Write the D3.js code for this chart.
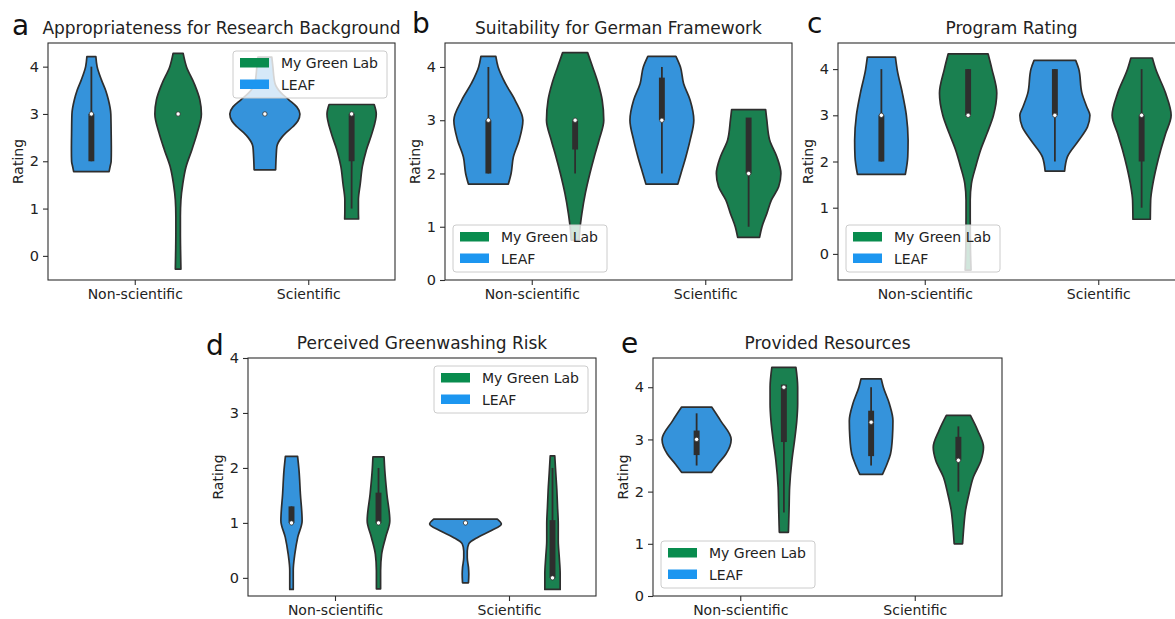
<!DOCTYPE html>
<html><head><meta charset="utf-8">
<script src="https://cdn.jsdelivr.net/npm/d3@7"></script>
<style>
body{margin:0;background:#fff}
svg{display:block;font-family:"DejaVu Sans",sans-serif}
</style>
</head><body>
<svg id="chart" width="1175" height="619"></svg>
<script>
// ---------------- DATA ----------------
const categories = ["Non-scientific", "Scientific"];
const seriesNames = ["LEAF", "My Green Lab"];
const legendLabels = ["My Green Lab", "LEAF"];
const yTickValues = [0, 1, 2, 3, 4];
const panelLetters = ["a", "b", "c", "d", "e"];
const panelTitles = [
  "Appropriateness for Research Background",
  "Suitability for German Framework",
  "Program Rating",
  "Perceived Greenwashing Risk",
  "Provided Resources"
];

// violin density profiles: [rating, half-width (fraction of category spacing)]
// a
const aLeafNon = [[4.21,.026],[4.0,.033],[3.72,.058],[3.5,.082],[3.3,.098],[3.0,.112],[2.6,.114],[2.24,.115],[2.0,.114],[1.89,.108],[1.78,.102]];
const aMglNon  = [[4.28,.029],[4.0,.048],[3.65,.092],[3.3,.125],[3.0,.134],[2.6,.110],[2.24,.079],[1.89,.046],[1.53,.027],[1.18,.016],[0.83,.013],[0.48,.013],[0.13,.014],[-0.28,.016]];
const aLeafSci = [[4.2,.040],[4.0,.046],[3.65,.058],[3.45,.092],[3.3,.138],[3.15,.184],[3.0,.202],[2.85,.190],[2.73,.161],[2.6,.121],[2.5,.096],[2.31,.069],[2.1,.065],[1.82,.062]];
const aMglSci  = [[3.2,.130],[3.0,.142],[2.6,.118],[2.24,.085],[1.89,.062],[1.53,.050],[1.18,.039],[0.95,.039],[0.78,.040]];
// b
const bLeafNon = [[4.2,.043],[4.0,.056],[3.69,.098],[3.375,.154],[3.0,.199],[2.63,.178],[2.31,.144],[2.0,.131],[1.8,.115]];
const bMglNon  = [[4.27,.072],[4.0,.101],[3.69,.133],[3.375,.156],[3.0,.165],[2.63,.138],[2.31,.110],[2.0,.085],[1.63,.059],[1.25,.039],[0.94,.027],[0.75,.023]];
const bLeafSci = [[4.2,.081],[4.0,.107],[3.69,.125],[3.375,.163],[3.0,.184],[2.63,.163],[2.31,.138],[2.0,.110],[1.8,.092]];
const bMglSci  = [[3.2,.098],[3.0,.105],[2.63,.121],[2.31,.163],[2.0,.186],[1.75,.173],[1.5,.131],[1.25,.105],[1.0,.077],[0.8,.063]];
// c
const cLeafNon = [[4.26,.081],[3.99,.091],[3.48,.121],[3.0,.144],[2.46,.154],[2.1,.152],[1.72,.138]];
const cMglNon  = [[4.33,.115],[4.0,.137],[3.48,.165],[3.0,.146],[2.6,.108],[2.25,.072],[1.88,.043],[1.52,.019],[1.16,.012],[0.8,.012],[0.2,.013],[-0.35,.017]];
const cLeafSci = [[4.19,.120],[4.0,.138],[3.48,.156],[3.19,.183],[3.0,.202],[2.75,.188],[2.46,.138],[2.1,.072],[1.79,.056]];
const cMglSci  = [[4.24,.062],[4.0,.081],[3.48,.138],[3.0,.170],[2.6,.138],[2.25,.110],[1.88,.085],[1.52,.065],[1.16,.052],[0.75,.050]];
// d
const dLeafNon = [[2.21,.035],[1.96,.043],[1.53,.051],[1.04,.061],[0.74,.036],[0.43,.019],[0.13,.010],[-0.21,.010]];
const dMglNon  = [[2.2,.032],[1.96,.036],[1.53,.048],[1.04,.065],[0.74,.041],[0.43,.018],[0.13,.012],[-0.2,.012]];
const dLeafSci = [[1.07,.183],[0.98,.206],[0.86,.149],[0.74,.072],[0.62,.019],[0.49,.010],[0.37,.010],[0.19,.017],[0.07,.019],[-0.09,.017]];
const dMglSci  = [[2.22,.013],[1.9,.019],[1.59,.025],[1.29,.029],[0.98,.033],[0.68,.033],[0.37,.039],[0.07,.044],[-0.21,.044]];
// e
const eLeafNon = [[3.62,.086],[3.36,.137],[3.0,.198],[2.72,.168],[2.53,.122],[2.37,.086]];
const eMglNon  = [[4.38,.069],[4.0,.079],[3.68,.079],[3.36,.074],[3.0,.062],[2.6,.046],[2.09,.033],[1.7,.030],[1.45,.028],[1.22,.026]];
const eLeafSci = [[4.16,.058],[4.0,.070],[3.68,.105],[3.36,.125],[3.04,.122],[2.72,.111],[2.53,.091],[2.33,.065]];
const eMglSci  = [[3.46,.069],[3.17,.111],[2.85,.144],[2.6,.130],[2.28,.086],[1.96,.061],[1.64,.041],[1.32,.031],[1.0,.024]];

// inner boxes: [q1, q3, median, whiskerLow, whiskerHigh]  order: LEAF-non, MGL-non, LEAF-sci, MGL-sci
const aBoxes = [[2,3,3,2,4],[3,3,3,3,3],[3,3,3,3,3],[2,3,3,1,3]];
const bBoxes = [[2,3,3,2,4],[2.45,3,3,2,3],[3,3.8,3,2,4],[2,3.05,2,1,3]];
const cBoxes = [[2,3,3,2,4],[3,4,3,3,4],[3,4,3,2,4],[2,3,3,1,4]];
const dBoxes = [[1,1.3,1,1,1.3],[1,1.55,1,1,2],[1,1,1,1,1],[0,1.05,0,0,2]];
const eBoxes = [[2.7,3.17,3,2.5,3.5],[2.95,4.05,4,1.6,4],[2.68,3.55,3.33,2.5,4],[2.6,3.05,2.6,2,3.25]];

const yDomains = [[-0.51, 4.5], [0, 4.45], [-0.565, 4.565], [-0.33, 4], [0, 4.56]];

// ---------------- LAYOUT / STYLE ----------------
const violinFill = {"LEAF": "#3593db", "My Green Lab": "#1a8050"};
const legendFill = {"LEAF": "#1c96f0", "My Green Lab": "#088c4e"};
const ink = "#2e2e2e";
const textColor = "#222";

const panels = [
  {left: 48,  right: 395,  top: 43,  bottom: 280, legend: "ur", violins: [aLeafNon, aMglNon, aLeafSci, aMglSci], boxes: aBoxes},
  {left: 445, right: 792,  top: 43,  bottom: 280, legend: "ll", violins: [bLeafNon, bMglNon, bLeafSci, bMglSci], boxes: bBoxes},
  {left: 838, right: 1185, top: 43,  bottom: 280, legend: "ll", violins: [cLeafNon, cMglNon, cLeafSci, cMglSci], boxes: cBoxes},
  {left: 248, right: 596,  top: 358, bottom: 596, legend: "ur", violins: [dLeafNon, dMglNon, dLeafSci, dMglSci], boxes: dBoxes},
  {left: 653, right: 1002, top: 358, bottom: 596, legend: "ll", violins: [eLeafNon, eMglNon, eLeafSci, eMglSci], boxes: eBoxes}
];

const svg = d3.select("#chart");

panels.forEach((p, pi) => {
  const g = svg.append("g");
  const x = d3.scaleLinear().domain([-0.5, 1.5]).range([p.left, p.right]);
  const y = d3.scaleLinear().domain(yDomains[pi]).range([p.bottom, p.top]);

  const order = [
    {cat: 0, s: "LEAF"}, {cat: 0, s: "My Green Lab"},
    {cat: 1, s: "LEAF"}, {cat: 1, s: "My Green Lab"}
  ];
  order.forEach((o, vi) => {
    const c = o.cat + (o.s === "LEAF" ? -0.25 : 0.25);
    const prof = p.violins[vi];
    const area = d3.area()
      .y(d => y(d[0]))
      .x0(d => x(c - d[1]))
      .x1(d => x(c + d[1]))
      .curve(d3.curveMonotoneY);
    g.append("path")
      .attr("d", area(prof))
      .attr("fill", violinFill[o.s])
      .attr("stroke", ink)
      .attr("stroke-width", 1.7)
      .attr("stroke-linejoin", "round");

    const [q1, q3, med, lo, hi] = p.boxes[vi];
    if (hi > lo) {
      g.append("line")
        .attr("x1", x(c)).attr("x2", x(c))
        .attr("y1", y(lo)).attr("y2", y(hi))
        .attr("stroke", ink).attr("stroke-width", 1.8);
    }
    if (q3 > q1) {
      g.append("rect")
        .attr("x", x(c - 0.017)).attr("width", x(c + 0.017) - x(c - 0.017))
        .attr("y", y(q3)).attr("height", y(q1) - y(q3))
        .attr("fill", ink);
    }
    g.append("circle")
      .attr("cx", x(c)).attr("cy", y(med)).attr("r", 2.2)
      .attr("fill", "#fff").attr("stroke", ink).attr("stroke-width", 0.8);
  });

  // frame
  g.append("rect")
    .attr("x", p.left).attr("y", p.top)
    .attr("width", p.right - p.left).attr("height", p.bottom - p.top)
    .attr("fill", "none").attr("stroke", ink).attr("stroke-width", 1.1);

  // axes
  const yAxis = d3.axisLeft(y).tickValues(yTickValues).tickSize(5).tickPadding(4).tickSizeOuter(0).tickFormat(d3.format("d"));
  const ya = g.append("g").attr("transform", `translate(${p.left},0)`).call(yAxis);
  ya.select(".domain").remove();
  ya.selectAll("line").attr("stroke", ink).attr("stroke-width", 1.1);
  ya.selectAll("text").attr("font-size", 14.5).attr("fill", textColor).attr("font-family", "DejaVu Sans");

  const xAxis = d3.axisBottom(x).tickValues([0, 1]).tickFormat(i => categories[i]).tickSize(5).tickPadding(4).tickSizeOuter(0);
  const xa = g.append("g").attr("transform", `translate(0,${p.bottom})`).call(xAxis);
  xa.select(".domain").remove();
  xa.selectAll("line").attr("stroke", ink).attr("stroke-width", 1.1);
  xa.selectAll("text").attr("font-size", 14).attr("fill", textColor).attr("font-family", "DejaVu Sans");

  // y label
  g.append("text")
    .attr("transform", `translate(${p.left - 30},${(p.top + p.bottom) / 2}) rotate(-90)`)
    .attr("text-anchor", "middle").attr("dominant-baseline", "central")
    .attr("font-size", 14).attr("fill", textColor)
    .text("Rating");

  // title
  g.append("text")
    .attr("x", (p.left + p.right) / 2).attr("y", p.top - 9)
    .attr("text-anchor", "middle").attr("font-size", 17).attr("fill", textColor)
    .text(panelTitles[pi]);

  // legend
  const lw = 154, lh = 47;
  const lx = p.legend === "ur" ? p.right - 8 - lw : p.left + 8;
  const ly = p.legend === "ur" ? p.top + 8 : p.bottom - 8 - lh;
  const lg = g.append("g").attr("transform", `translate(${lx},${ly})`);
  lg.append("rect").attr("width", lw).attr("height", lh).attr("rx", 3)
    .attr("fill", "#fff").attr("fill-opacity", 0.8)
    .attr("stroke", "#cccccc").attr("stroke-width", 1);
  legendLabels.forEach((lab, i) => {
    lg.append("rect").attr("x", 7).attr("y", 7 + i * 21.5).attr("width", 29).attr("height", 9.5)
      .attr("fill", legendFill[lab]);
    lg.append("text").attr("x", 48).attr("y", 17 + i * 21.5)
      .attr("font-size", 14).attr("fill", textColor).text(lab);
  });
});

// panel letters
const letterPos = [[12, 35], [412, 33], [807, 33], [206, 355], [621, 353]];
panelLetters.forEach((l, i) => {
  svg.append("text").attr("x", letterPos[i][0]).attr("y", letterPos[i][1])
    .attr("font-size", 28).attr("fill", "#111").text(l);
});
</script>
</body></html>
